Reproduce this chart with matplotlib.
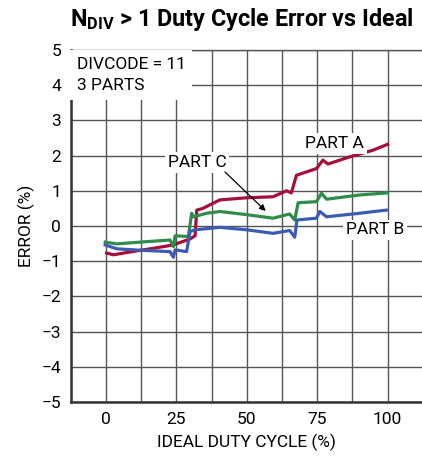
import matplotlib
matplotlib.use('Agg')
from matplotlib import pyplot as plt

plt.rcParams['font.family'] = ['Roboto', 'DejaVu Sans']
plt.rcParams['mathtext.fontset'] = 'custom'
plt.rcParams['mathtext.bf'] = 'Roboto:bold'
plt.rcParams['mathtext.rm'] = 'Roboto'

# duty cycle error for the three parts
part_a_x = [0.2, 2.6, 10, 18, 23.8, 29.8, 31.6, 32.2, 34.4, 40.4, 49.9, 59.3, 64.1, 65.8, 67.6,
            74.7, 77.0, 78.8, 86, 94.7, 100]
part_a_y = [-0.77, -0.82, -0.72, -0.62, -0.54, -0.37, -0.28, 0.45, 0.50, 0.74, 0.80, 0.83, 1.00,
            0.94, 1.44, 1.63, 1.87, 1.76, 1.95, 2.15, 2.32]

part_b_x = [-0.3, 3.8, 12, 22.7, 23.9, 24.5, 28.6, 29.8, 31.6, 40.4, 50, 59.3, 65.2, 67.0, 67.8,
            74.7, 75.9, 78.3, 90, 99.5]
part_b_y = [-0.54, -0.65, -0.69, -0.73, -0.89, -0.68, -0.73, -0.16, -0.11, -0.04, -0.11, -0.21,
            -0.13, -0.32, 0.17, 0.22, 0.41, 0.26, 0.36, 0.45]

part_c_x = [-0.3, 3.8, 12, 22.7, 23.9, 24.5, 29.2, 30.4, 31.0, 35.7, 40.4, 50, 59.3, 65.2, 67.0,
            68.2, 74.7, 76.5, 78.3, 90, 100]
part_c_y = [-0.46, -0.51, -0.46, -0.40, -0.59, -0.28, -0.30, 0.36, 0.26, 0.36, 0.41, 0.32, 0.22,
            0.34, 0.17, 0.66, 0.69, 0.93, 0.76, 0.88, 0.94]

x_ticks = [0, 25, 50, 75, 100]
y_ticks = [-5, -4, -3, -2, -1, 0, 1, 2, 3, 4, 5]

fig = plt.figure(figsize=(4.22, 4.63), dpi=100)
ax = fig.add_axes([0.168, 0.132, 0.834, 0.760])

ax.plot(part_a_x, part_a_y, color='#a50f3c', lw=2.3, zorder=3)
ax.plot(part_c_x, part_c_y, color='#2f8c4a', lw=2.3, zorder=3)
ax.plot(part_b_x, part_b_y, color='#3b5cb0', lw=2.3, zorder=3)

ax.set_xlim(-12.5, 112.5)
ax.set_ylim(-5, 5)
ax.set_xticks(x_ticks)
ax.set_xticks([-12.5 + 25 * i for i in range(6)], minor=True)
ax.set_yticks(y_ticks)
ax.set_yticklabels([str(v).replace('-', '\u2212') for v in y_ticks])
ax.grid(True, which='both', color='#555555', lw=1.0)
ax.tick_params(which='both', length=0, labelsize=12.5, pad=7)
for side in ['left', 'bottom']:
    ax.spines[side].set_linewidth(1.8)
    ax.spines[side].set_color('#333333')
for side in ['top', 'right']:
    ax.spines[side].set_linewidth(1.0)
    ax.spines[side].set_color('#555555')

ax.set_xlabel('IDEAL DUTY CYCLE (%)', fontsize=12.5, labelpad=5)
ax.set_ylabel('ERROR (%)', fontsize=12.5, labelpad=5)
fig.text(0.572, 0.957, r'$\mathbf{N_{DIV}}$' + ' > 1 Duty Cycle Error vs Ideal',
         ha='center', va='center', fontsize=16.8, fontweight='bold')

box = dict(facecolor='white', edgecolor='none', pad=2)
ax.text(-10.5, 4.8, 'DIVCODE = 11\n3 PARTS', ha='left', va='top', fontsize=12.5,
        linespacing=1.5, bbox=dict(facecolor='white', edgecolor='none', pad=5), zorder=4)
ax.text(81.2, 2.35, 'PART A', ha='center', va='center', fontsize=12.5, bbox=box, zorder=4)
ax.text(95.4, -0.11, 'PART B', ha='center', va='center', fontsize=12.5, bbox=box, zorder=4)
ax.text(32.3, 1.81, 'PART C', ha='center', va='center', fontsize=12.5, bbox=box, zorder=4)
ax.annotate('', xy=(57.4, 0.37), xytext=(41.5, 1.59),
            arrowprops=dict(arrowstyle='-|>', color='black', lw=0.9, mutation_scale=9), zorder=4)

fig.savefig('out.png', dpi=100)
